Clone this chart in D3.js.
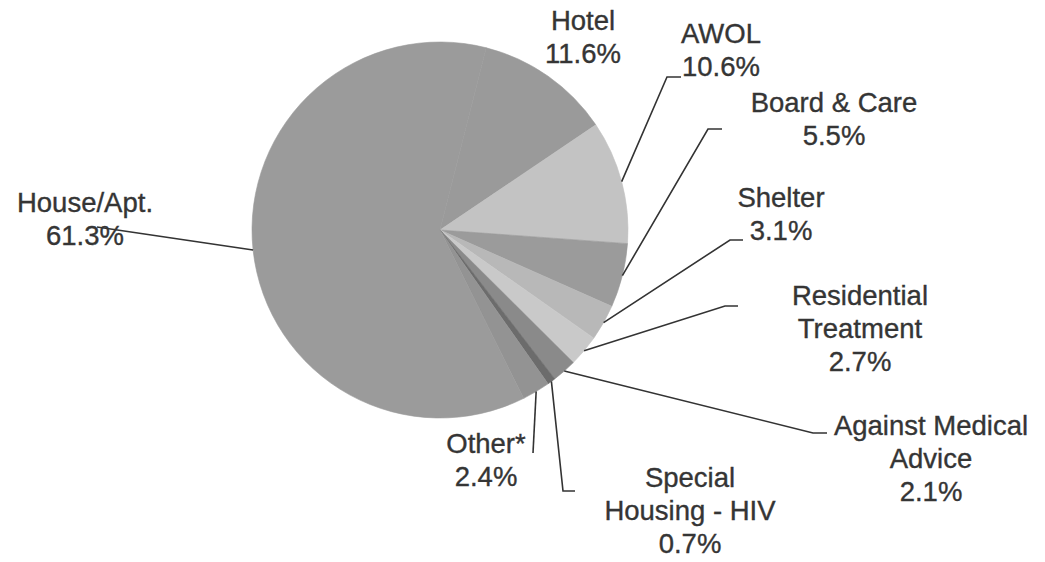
<!DOCTYPE html>
<html lang="en">
<head>
    <meta charset="UTF-8">
    <title>Discharge Destination</title>
    <style>
        body { margin: 0; background: #fff; }
        text { font-family: "Liberation Sans", Arial, sans-serif; fill: #353535; stroke: #353535; stroke-width: 0.35px; }
    </style>
</head>
<body>
    <svg id="pie-chart" width="1045" height="562"></svg>
    <script src="https://d3js.org/d3.v7.min.js"></script>
    <script>
        // data, in clockwise order starting from Hotel
        var categories = ["Hotel", "AWOL", "Board & Care", "Shelter", "Residential Treatment",
                          "Against Medical Advice", "Special Housing - HIV", "Other*", "House/Apt."];
        var percents = [11.6, 10.6, 5.5, 3.1, 2.7, 2.1, 0.7, 2.4, 61.3];
        var labelLines = [
            ["Hotel"], ["AWOL"], ["Board & Care"], ["Shelter"], ["Residential", "Treatment"],
            ["Against Medical", "Advice"], ["Special", "Housing - HIV"], ["Other*"], ["House/Apt."]
        ];
        var colors = ["#9a9a9a", "#c3c3c3", "#9b9b9b", "#b8b8b8", "#c9c9c9",
                      "#8a8a8a", "#6c6c6c", "#939393", "#9b9b9b"];

        // label layout: text centre x, first baseline y, leader elbow [x,y] and tail end x (null = no leader)
        var labelPos = [
            { x: 583, y: 30,  elbow: null },
            { x: 721, y: 43,  elbow: [667, 77],  tail: 681 },
            { x: 834, y: 112, elbow: [708, 129], tail: 722 },
            { x: 781, y: 207, elbow: [730, 240], tail: 743 },
            { x: 860, y: 305, elbow: [725, 306], tail: 738 },
            { x: 931, y: 435, elbow: [813, 433], tail: 827 },
            { x: 690, y: 487, elbow: [563, 491], tail: 575 },
            { x: 486, y: 453, elbow: [533, 453], tail: 533 },
            { x: 85,  y: 212, elbow: [97, 227],  tail: 97 }
        ];

        var cx = 440, cy = 230, radius = 188, lineH = 33;

        var svg = d3.select("#pie-chart");
        var g = svg.append("g").attr("transform", "translate(" + cx + "," + cy + ")");

        var data = categories.map(function(c, i) { return { name: c, value: percents[i], i: i }; });

        var pie = d3.pie()
            .sort(null)
            .value(function(d) { return d.value; })
            .startAngle(14.24 * Math.PI / 180)
            .endAngle(14.24 * Math.PI / 180 + 2 * Math.PI);

        var arc = d3.arc().innerRadius(0).outerRadius(radius);
        var arcs = pie(data);

        g.selectAll(".slice")
            .data(arcs)
            .enter().append("path")
            .attr("class", "slice")
            .attr("d", arc)
            .style("fill", function(d) { return colors[d.data.i]; })
            .style("stroke", function(d) { return colors[d.data.i]; })
            .style("stroke-width", 0.6);

        // leader lines from the slice's outer edge to the label
        arcs.forEach(function(a) {
            var p = labelPos[a.data.i];
            if (!p.elbow) return;
            var mid = (a.startAngle + a.endAngle) / 2;
            var sx = cx + radius * Math.sin(mid), sy = cy - radius * Math.cos(mid);
            svg.append("polyline")
                .attr("points", [[sx, sy], p.elbow, [p.tail, p.elbow[1]]].map(function(q) { return q.join(","); }).join(" "))
                .style("fill", "none")
                .style("stroke", "#333")
                .style("stroke-width", 1.6);
        });

        // labels
        data.forEach(function(d) {
            var p = labelPos[d.i];
            var lines = labelLines[d.i].concat([d3.format(".1f")(d.value) + "%"]);
            var t = svg.append("text")
                .attr("text-anchor", "middle")
                .style("font-size", "27.5px");
            lines.forEach(function(s, k) {
                t.append("tspan").attr("x", p.x).attr("y", p.y + k * lineH).text(s);
            });
        });
    </script>
</body>
</html>
